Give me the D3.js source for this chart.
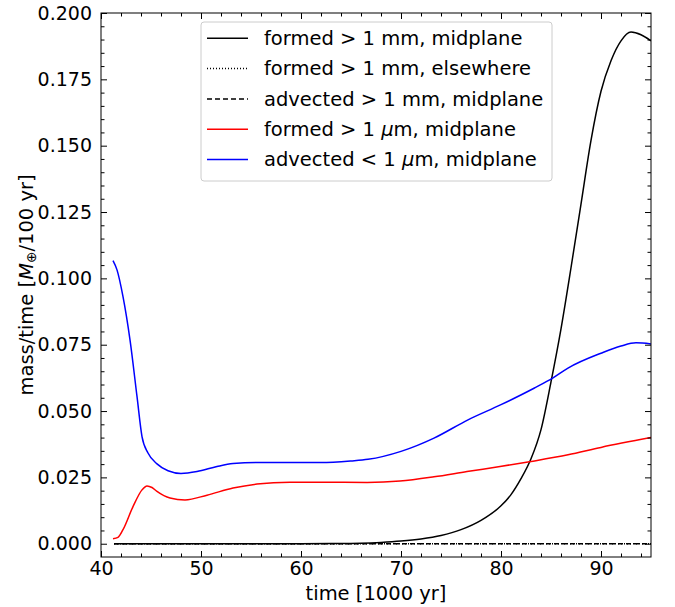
<!DOCTYPE html>
<html><head><meta charset="utf-8">
<script src="https://cdn.jsdelivr.net/npm/d3@7"></script>
<style>body{margin:0;background:#fff}svg{display:block;font-family:"DejaVu Sans",sans-serif}</style>
</head><body><svg id="c" width="675" height="607"></svg>
<script>
// ---- data ----
const xTicks = [40,50,60,70,80,90];
const yTicks = [0,0.025,0.05,0.075,0.1,0.125,0.15,0.175,0.2];
const yTickLabels = ["0.000","0.025","0.050","0.075","0.100","0.125","0.150","0.175","0.200"];
const formedMmMid = [[41.3,0],[60,0],[64,0.0001],[66,0.0002],[68,0.0005],[70,0.0010],[72,0.0018],[74,0.0031],[76,0.0053],[78,0.0088],[80,0.0143],[81,0.0185],[82,0.0245],[83,0.032],[84,0.043],[85,0.061],[86,0.081],[87,0.104],[88,0.128],[89,0.152],[90,0.1705],[91,0.182],[92,0.1895],[93,0.1928],[94,0.1918],[95,0.1895]];
const formedMmElse = [[41.3,0],[95,0]];
const advectedMmMid = [[41.3,0],[95,0]];
const formedUmMid = [[41.2,0.0019],[41.7,0.0024],[42.2,0.0053],[43.2,0.014],[44.1,0.0203],[44.6,0.0218],[45.1,0.0212],[45.6,0.0197],[46.9,0.0172],[48.4,0.0165],[50.6,0.0183],[53.2,0.021],[55.6,0.0225],[58.9,0.0232],[62,0.0232],[66.6,0.0231],[69.9,0.0236],[73.3,0.0252],[76.6,0.0272],[79.9,0.0291],[83,0.031],[86.7,0.0335],[90,0.0363],[95,0.04]];
const advectedUmMid = [[41.2,0.1067],[41.6,0.1032],[42.2,0.0931],[42.9,0.0768],[43.6,0.0555],[44.1,0.0404],[44.7,0.0342],[45.6,0.0301],[46.7,0.0275],[48.0,0.0265],[49.6,0.0272],[51.6,0.0291],[53.2,0.0302],[55.6,0.0306],[58.9,0.0306],[62,0.0306],[65,0.0312],[66.7,0.0318],[70,0.0348],[73.3,0.0398],[76.7,0.0467],[80,0.0524],[83.3,0.0586],[85.2,0.0625],[86.7,0.0662],[90,0.0718],[92,0.0745],[93.5,0.0757],[95,0.0753]];
const seriesNames = ["formed > 1 mm, midplane","formed > 1 mm, elsewhere","advected > 1 mm, midplane","formed > 1 μm, midplane","advected < 1 μm, midplane"];

// ---- layout ----
const svg = d3.select("#c");
const L=101, R=651, T=13, B=557;
const x = d3.scaleLinear().domain([40,95]).range([L,R]);
const y = d3.scaleLinear().domain([-0.005,0.2]).range([B,T]);

const series = [
  {d:formedMmMid, c:"#000", dash:null},
  {d:formedMmElse, c:"#000", dash:"1,2"},
  {d:advectedMmMid, c:"#000", dash:"5,3"},
  {d:formedUmMid, c:"#ff0000", dash:null},
  {d:advectedUmMid, c:"#0000ff", dash:null}
];
const line = d3.line().x(d=>x(d[0])).y(d=>y(d[1])).curve(d3.curveMonotoneX);
const g = svg.append("g");
g.append("defs").append("clipPath").attr("id","clip").append("rect").attr("x",L).attr("y",T).attr("width",R-L).attr("height",B-T);
series.forEach(s=>{
  g.append("path").attr("d",line(s.d)).attr("fill","none").attr("stroke",s.c)
   .attr("stroke-width",1.5).attr("stroke-dasharray",s.dash).attr("clip-path","url(#clip)");
});

// axes
const fs = 19.5, tfs = 19;
const ax = (axis, tr) => svg.append("g").attr("transform",tr).call(axis).call(a=>{a.select(".domain").remove(); a.selectAll("line").attr("stroke","#000");});
const xMinor = d3.range(40,96,2).filter(v=>v%10!==0);
const yMinor = d3.range(0,41).map(i=>i*0.005).filter((v,i)=>i%5!==0);
const xb = ax(d3.axisBottom(x).tickValues(xTicks).tickSizeInner(-6).tickSizeOuter(0).tickPadding(5).tickFormat(d3.format("d")), `translate(0,${B})`);
xb.selectAll("text").attr("font-size",tfs).attr("fill","#000").attr("font-family","DejaVu Sans");
ax(d3.axisBottom(x).tickValues(xMinor).tickSizeInner(-3.5).tickSizeOuter(0).tickFormat(""), `translate(0,${B})`);
ax(d3.axisTop(x).tickValues(xTicks).tickSizeInner(-6).tickSizeOuter(0).tickFormat(""), `translate(0,${T})`);
ax(d3.axisTop(x).tickValues(xMinor).tickSizeInner(-3.5).tickSizeOuter(0).tickFormat(""), `translate(0,${T})`);
const yl = ax(d3.axisLeft(y).tickValues(yTicks).tickSizeInner(-6).tickSizeOuter(0).tickPadding(9).tickFormat((d,i)=>yTickLabels[i]), `translate(${L},0)`);
yl.selectAll("text").attr("font-size",tfs).attr("fill","#000").attr("font-family","DejaVu Sans");
ax(d3.axisLeft(y).tickValues(yMinor).tickSizeInner(-3.5).tickSizeOuter(0).tickFormat(""), `translate(${L},0)`);
ax(d3.axisRight(y).tickValues(yTicks).tickSizeInner(-6).tickSizeOuter(0).tickFormat(""), `translate(${R},0)`);
ax(d3.axisRight(y).tickValues(yMinor).tickSizeInner(-3.5).tickSizeOuter(0).tickFormat(""), `translate(${R},0)`);
svg.append("rect").attr("x",L).attr("y",T).attr("width",R-L).attr("height",B-T).attr("fill","none").attr("stroke","#000").attr("stroke-width",1);

// axis labels
svg.append("text").attr("x",(L+R)/2).attr("y",600).attr("text-anchor","middle").attr("font-size",fs).text("time [1000 yr]");
const yt = svg.append("text").attr("transform","translate(33,285) rotate(-90)").attr("text-anchor","middle").attr("font-size",fs);
yt.append("tspan").text("mass/time [");
yt.append("tspan").attr("font-style","italic").text("M");
yt.append("tspan").attr("font-size",fs*0.7).attr("dy",3).text("⊕");
yt.append("tspan").attr("dy",-3).text("/100 yr]");

// legend
const lg = svg.append("g");
lg.append("rect").attr("x",201).attr("y",22).attr("width",351).attr("height",159).attr("rx",3)
  .attr("fill","#fff").attr("fill-opacity",0.8).attr("stroke","#ccc").attr("stroke-width",1);
seriesNames.forEach((name,i)=>{
  const cy = 38.3 + i*30.3;
  lg.append("line").attr("x1",207).attr("x2",248).attr("y1",cy).attr("y2",cy)
    .attr("stroke",series[i].c).attr("stroke-width",1.5).attr("stroke-dasharray",series[i].dash);
  const t = lg.append("text").attr("x",264).attr("y",cy).attr("dy","0.35em").attr("font-size",fs);
  const parts = name.split("μ");
  t.append("tspan").text(parts[0]);
  if(parts.length>1){ t.append("tspan").attr("font-style","italic").text("μ"); t.append("tspan").text(parts[1]); }
});
</script></body></html>
